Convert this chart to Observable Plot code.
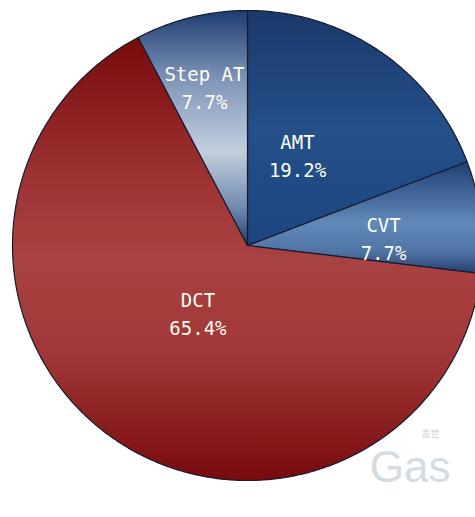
<!DOCTYPE html>
<html><head><meta charset="utf-8">
<script src="https://cdn.jsdelivr.net/npm/d3@7"></script>
<script src="https://cdn.jsdelivr.net/npm/@observablehq/plot@0.6"></script>
<style>body{margin:0;background:#fff;}</style>
</head><body><div id="chart"></div>
<script>
// ---- data ----
const categories = ["AMT", "CVT", "DCT", "Step AT"];
const shares = [19.2, 7.7, 65.4, 7.7];
const watermarkText = "Gas";
const watermarkCn = "盖世";

// ---- styling / layout (not data) ----
const gradientStops = {
  "AMT":     [[0, "#1b396b"], [0.5, "#244f88"], [1, "#1d4680"]],
  "CVT":     [[0, "#1f3f72"], [0.55, "#6189b8"], [0.8, "#4f74a5"], [1, "#253f70"]],
  "DCT":     [[0, "#780a0c"], [0.3, "#9c3132"], [0.5, "#a94242"], [0.72, "#a03637"], [1, "#770a0c"]],
  "Step AT": [[0, "#1e3c72"], [0.3, "#8196b9"], [0.6, "#c3cfde"], [0.85, "#6d86ad"], [1, "#1d3a6a"]]
};
// [fraction of slice sweep, radius fraction]
const labelLayout = {"AMT": [0.415, 0.443], "CVT": [0.625, 0.58], "DCT": [0.509, 0.353], "Step AT": [0.455, 0.703]};

const total = d3.sum(shares);
let acc = 0;
const slices = categories.map((name, i) => {
  const a0 = acc / total * 2 * Math.PI; acc += shares[i];
  const a1 = acc / total * 2 * Math.PI;
  return {name, share: shares[i], a0, a1, id: "grad" + i};
});

function outline(s) {
  const pts = [{x: 0, y: 0}];
  const n = Math.max(2, Math.ceil((s.a1 - s.a0) / (Math.PI / 360)));
  for (let k = 0; k <= n; k++) {
    const a = s.a0 + (s.a1 - s.a0) * k / n;
    pts.push({x: Math.sin(a), y: Math.cos(a)});
  }
  pts.push({x: 0, y: 0});
  return pts;
}

const labels = slices.map(s => {
  const [f, r] = labelLayout[s.name];
  const a = s.a0 + (s.a1 - s.a0) * f;
  return {x: r * Math.sin(a), y: r * Math.cos(a), text: `${s.name}\n${s.share.toFixed(1)}%`};
});

function defsMark() {
  const defs = d3.create("svg:defs");
  slices.forEach(s => {
    const g = defs.append("linearGradient").attr("id", s.id)
      .attr("x1", 0).attr("y1", 0).attr("x2", 0).attr("y2", 1);
    gradientStops[s.name].forEach(([o, c]) => g.append("stop").attr("offset", o).attr("stop-color", c));
  });
  return defs.node();
}

const chart = Plot.plot({
  width: 475,
  height: 517,
  margin: 0,
  style: {background: "white"},
  x: {domain: [-1, 1], range: [12, 482], axis: null},
  y: {domain: [-1, 1], range: [480, 10], axis: null},
  marks: [
    defsMark,
    Plot.text([{x: 0.52, y: -1.007}], {x: "x", y: "y", text: () => watermarkText, textAnchor: "start", lineAnchor: "bottom",
      fontFamily: "Liberation Sans", fontSize: 44, fill: "#d3dbe3"}),
    Plot.text([{x: 0.74, y: -0.815}], {x: "x", y: "y", text: () => watermarkCn, textAnchor: "start", lineAnchor: "bottom",
      fontFamily: "Noto Sans CJK SC", fontSize: 9, fill: "#c9d2dc"}),
    ...slices.map(s => Plot.line(outline(s), {x: "x", y: "y", fill: `url(#${s.id})`, stroke: "#161a2c", strokeWidth: 1.2, curve: "linear"})),
    Plot.text(labels, {x: "x", y: "y", text: "text", fill: "#fffff2", fontFamily: "DejaVu Sans Mono", fontSize: 19, lineHeight: 1.45})
  ]
});
document.getElementById("chart").appendChild(chart);
</script>
</body></html>
